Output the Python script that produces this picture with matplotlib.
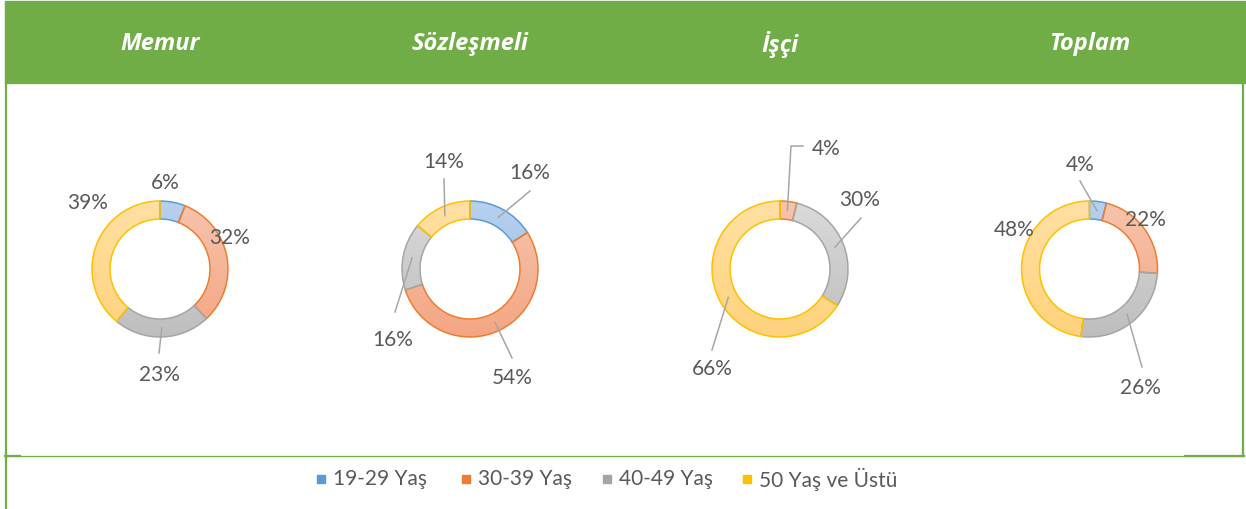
import matplotlib
matplotlib.use("Agg")
import matplotlib.pyplot as plt
from matplotlib.patches import Rectangle
from matplotlib.colors import LinearSegmentedColormap
import numpy as np

plt.rcParams['font.family'] = ['Lato', 'DejaVu Sans']

W, H = 1246, 509

# data
groups = ['Memur', 'Sözleşmeli', 'İşçi', 'Toplam']
age_bands = ['19-29 Yaş', '30-39 Yaş', '40-49 Yaş', '50 Yaş ve Üstü']
memur = [6, 32, 23, 39]
sozlesmeli = [16, 54, 16, 14]
isci = [0, 4, 30, 66]
toplam = [4, 22, 26, 48]
series = [memur, sozlesmeli, isci, toplam]

edge_cols = ['#5B9BD5', '#ED7D31', '#A5A5A5', '#FFC000']
# light (top) -> darker (bottom) fill gradients
grad_cols = [('#B7D0EE', '#9BBDE3'), ('#F7C4AC', '#F4A683'),
             ('#DADADA', '#BEBEBE'), ('#FFE0A3', '#FFD37C')]
green = '#70AD47'
txt_col = '#595959'
lead_col = '#A6A6A6'

# layout (pixel coords, y measured from top)
centers_x = [160, 470, 780, 1089.5]
center_y = 269
r_out, ring = 68, 18
label_pos = [
    [(165, 183), (230, 238), (159, 375), (88, 203)],
    [(530, 173), (512, 378), (393, 340), (444, 162)],
    [None, (826, 149), (860, 200), (712, 369)],
    [(1080, 165), (1145, 220), (1140, 388), (1014, 230)],
]
leaders = [
    [None, None, [(159, 353)], None],
    [[(530, 191)], [(512, 358)], [(395, 312)], [(444, 179)]],
    [None, [(791, 146), (803, 146)], [(861, 218)], [(712, 350)]],
    [[(1080, 181)], None, [(1142, 367)], None],
]


def Y(y):
    return H - y


fig = plt.figure(figsize=(W / 100, H / 100), dpi=100)
ax = fig.add_axes([0, 0, 1, 1])

# frame and header
ax.add_patch(Rectangle((5, Y(83)), W - 5, 82, color=green, zorder=1))
ax.plot([6, 6], [Y(83), Y(509)], color=green, lw=1.6, zorder=2)
ax.plot([1243, 1243], [Y(83), Y(456)], color=green, lw=1.6, zorder=2)
ax.plot([5, 1243], [Y(455.5), Y(455.5)], color=green, lw=0.9, zorder=2)
ax.plot([5, 20], [Y(455.5), Y(455.5)], color=green, lw=1.6, zorder=2)
ax.plot([1185, 1244], [Y(455.5), Y(455.5)], color=green, lw=1.6, zorder=2)

for cx, name in zip(centers_x, groups):
    ax.text(cx, Y(44), name, color='white', fontsize=17, fontweight='bold',
            fontstyle='italic', ha='center', va='center', zorder=3,
            family=['Open Sans', 'DejaVu Sans'])

grad = np.linspace(0, 1, 64).reshape(-1, 1)
for i, vals in enumerate(series):
    cx = centers_x[i]
    cy = Y(center_y)
    wedges, _ = ax.pie(vals, colors=['none'] * 4, startangle=90, counterclock=False,
                       radius=r_out, center=(cx, cy), frame=True,
                       wedgeprops=dict(width=ring, linewidth=1.1))
    for j, w in enumerate(wedges):
        w.set_edgecolor(edge_cols[j])
        w.set_zorder(4)
        if vals[j] == 0:
            w.set_visible(False)
            continue
        cmap = LinearSegmentedColormap.from_list('g', grad_cols[j])
        im = ax.imshow(grad, cmap=cmap, origin='upper', aspect='auto',
                       extent=(cx - r_out, cx + r_out, cy - r_out, cy + r_out),
                       zorder=3.5, interpolation='bilinear')
        im.set_clip_path(w)
        lx, ly = label_pos[i][j]
        ax.text(lx, Y(ly), f'{vals[j]}%', color=txt_col, fontsize=15,
                ha='center', va='center', zorder=6)
        if leaders[i][j] is not None:
            th = np.deg2rad((w.theta1 + w.theta2) / 2)
            rm = r_out - ring / 2
            xs = [cx + rm * np.cos(th)] + [p[0] for p in leaders[i][j]]
            ys = [cy + rm * np.sin(th)] + [Y(p[1]) for p in leaders[i][j]]
            ax.plot(xs, ys, color=lead_col, lw=1.1, zorder=5)

# legend
leg_sq_x = [321, 466, 607, 747]
for x, lab, c in zip(leg_sq_x, age_bands, edge_cols):
    ax.add_patch(Rectangle((x - 4, Y(483)), 8, 8, color=c, zorder=3))
    ax.text(x + 12, Y(479), lab, color=txt_col, fontsize=15, ha='left',
            va='center', zorder=3)

ax.set_xlim(0, W)
ax.set_ylim(0, H)
ax.set_aspect('auto')
ax.axis('off')

fig.savefig('out.png', dpi=100)
